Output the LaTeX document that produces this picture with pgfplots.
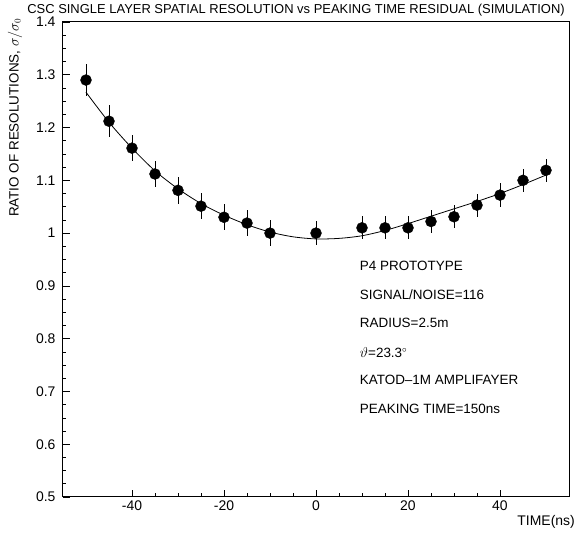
\documentclass[border=0pt]{standalone}
\usepackage{fontspec}
\setmainfont{Liberation Sans}
\usepackage{pgfplots}
\pgfplotsset{compat=1.18}
\begin{document}
\begin{tikzpicture}
\begin{axis}[
  scale only axis,
  width=506bp, height=475bp,
  xmin=-55, xmax=55, ymin=0.5, ymax=1.4,
  xtick={-40,-20,0,20,40},
  ytick={0.5,0.6,0.7,0.8,0.9,1,1.1,1.2,1.3,1.4},
  yticklabels={0.5,0.6,0.7,0.8,0.9,1,1.1,1.2,1.3,1.4},
  minor x tick num=3,
  minor y tick num=3,
  tick pos=left,
  tick align=inside,
  major tick length=7bp,
  minor tick length=3.5bp,
  axis line style={line width=1pt},
  every tick/.style={black, line width=0.6pt},
  /pgf/number format/assume math mode=true,
  tick label style={font=\fontsize{14}{16}\selectfont},
  yticklabel style={xshift=-4bp},
  clip=false,
]
\addplot[black, line width=0.8pt, smooth] coordinates {
(-50,1.267) (-45,1.21) (-40,1.161) (-35,1.118) (-30,1.084) (-25,1.056)
(-20,1.034) (-15,1.016) (-10,1.002) (-5,0.993) (0,0.989) (5,0.990)
(10,0.995) (15,1.005) (20,1.018) (25,1.032) (30,1.046) (35,1.060)
(40,1.075) (45,1.092) (50,1.110)
};
\addplot[black, only marks, mark=*, mark size=5.5bp,
  error bars/.cd, y dir=both, y explicit,
  error bar style={line width=0.8pt}, error mark=none]
coordinates {
(-50,1.290) +- (0,0.030)
(-45,1.212) +- (0,0.030)
(-40,1.161) +- (0,0.025)
(-35,1.112) +- (0,0.025)
(-30,1.081) +- (0,0.025)
(-25,1.051) +- (0,0.025)
(-20,1.030) +- (0,0.025)
(-15,1.019) +- (0,0.025)
(-10,1.000) +- (0,0.025)
(0,1.000) +- (0,0.022)
(10,1.010) +- (0,0.022)
(15,1.010) +- (0,0.022)
(20,1.010) +- (0,0.022)
(25,1.022) +- (0,0.022)
(30,1.031) +- (0,0.022)
(35,1.053) +- (0,0.022)
(40,1.072) +- (0,0.022)
(45,1.100) +- (0,0.022)
(50,1.119) +- (0,0.022)
};
\begin{scope}[every node/.style={anchor=west, font=\fontsize{13.5}{16}\selectfont, inner sep=0pt}]
\node at (axis cs:9.5,0.938) {P4 PROTOTYPE};
\node at (axis cs:9.5,0.884) {SIGNAL/NOISE=116};
\node at (axis cs:9.5,0.829) {RADIUS=2.5m};
\node at (axis cs:9.5,0.774) {$\vartheta$=23.3$^{\circ}$};
\node at (axis cs:9.5,0.721) {KATOD--1M AMPLIFAYER};
\node at (axis cs:9.5,0.667) {PEAKING TIME=150ns};
\end{scope}
\node[anchor=south, font=\fontsize{13}{15}\selectfont, inner sep=0pt] at ([xshift=-20bp,yshift=6bp]rel axis cs:0.5,1) {CSC SINGLE LAYER SPATIAL RESOLUTION vs PEAKING TIME RESIDUAL (SIMULATION)};
\node[anchor=east, rotate=90, font=\fontsize{13.5}{15}\selectfont, inner sep=0pt] at ([xshift=-48bp,yshift=4bp]rel axis cs:0,1) {RATIO OF RESOLUTIONS, $\sigma/\sigma_0$};
\node[anchor=east, font=\fontsize{14}{16}\selectfont, inner sep=0pt] at ([xshift=6bp,yshift=-25bp]rel axis cs:1,0) {TIME(ns)};
\end{axis}
\pgfresetboundingbox
\path[use as bounding box] ([xshift=-63bp,yshift=-39bp]current axis.south west) rectangle ([xshift=9bp,yshift=22bp]current axis.north east);
\end{tikzpicture}
\end{document}
